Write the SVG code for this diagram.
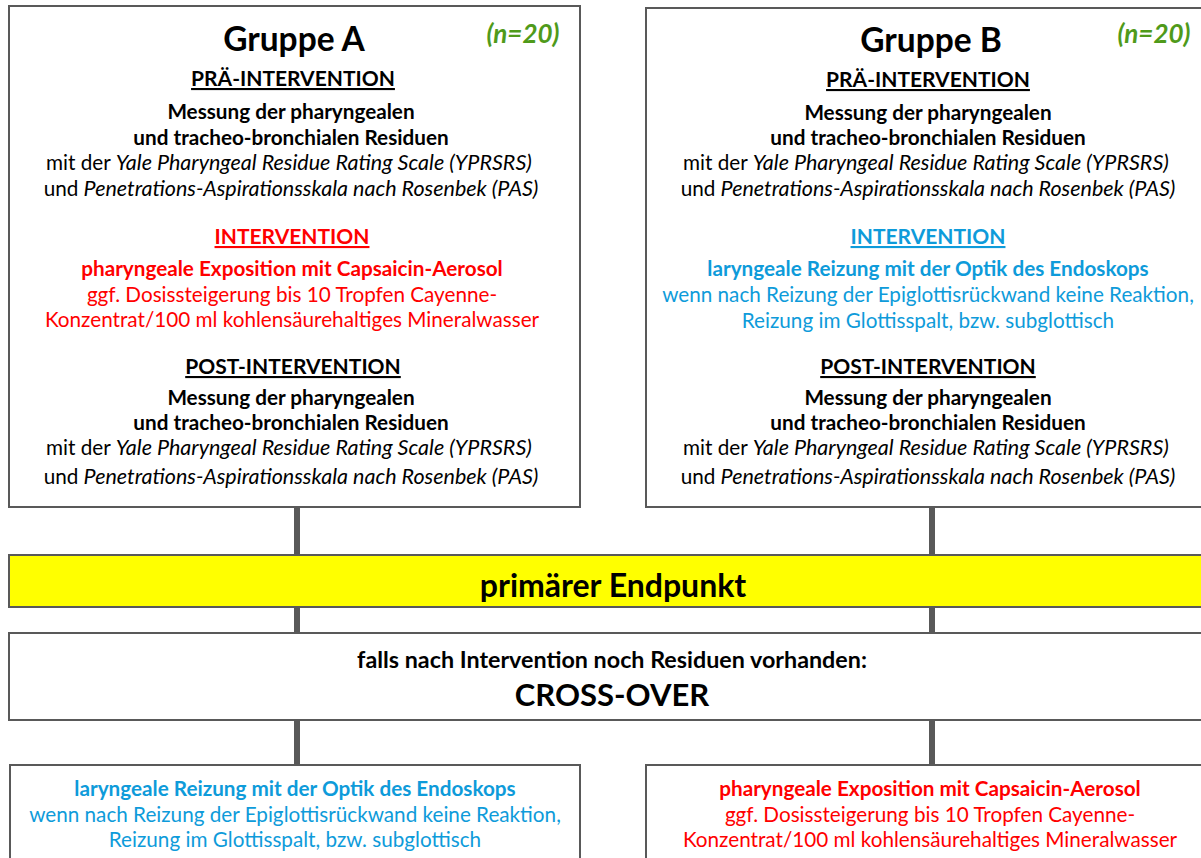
<svg xmlns="http://www.w3.org/2000/svg" width="1201" height="858" viewBox="0 0 1201 858">
<style>
text{font-family:Lato,"Open Sans","Liberation Sans",sans-serif;text-anchor:middle;}
.box{fill:#fff;stroke:#595959;stroke-width:2;}
.t{font-size:33.5px;font-weight:bold;fill:#000;}
.n{font-size:26px;font-weight:bold;font-style:italic;fill:#4f9a1a;}
.h{font-size:21px;font-weight:bold;text-decoration:underline;fill:#000;}
.b{font-size:20.7px;font-weight:bold;fill:#000;}
.r{font-size:20.7px;fill:#000;}
.i{font-style:italic;font-size:21.5px;}
.red{fill:#ff0000;}
.blue{fill:#0e9bda;}
.conn{stroke:#595959;stroke-width:6;fill:none;}
</style>
<rect width="1201" height="858" fill="#fff"/>
<g id="connectors">
<line class="conn" x1="297" y1="507" x2="297" y2="555"/>
<line class="conn" x1="932" y1="507" x2="932" y2="555"/>
<line class="conn" x1="297" y1="607" x2="297" y2="633"/>
<line class="conn" x1="932" y1="607" x2="932" y2="633"/>
<line class="conn" x1="297" y1="720" x2="297" y2="765"/>
<line class="conn" x1="932" y1="720" x2="932" y2="765"/>
</g>
<g id="gruppeA">
<rect class="box" x="9" y="6" width="571" height="501"/>
<text class="t" x="294" y="51">Gruppe A</text>
<text class="n" x="523" y="43">(n=20)</text>
<text class="h" x="293" y="86">PRÄ-INTERVENTION</text>
<text class="b" x="291" y="119">Messung der pharyngealen</text>
<text class="b" x="291" y="145">und tracheo-bronchialen Residuen</text>
<text class="r" x="289" y="170">mit der <tspan class="i">Yale Pharyngeal Residue Rating Scale (YPRSRS)</tspan></text>
<text class="r" x="291" y="196">und <tspan class="i">Penetrations-Aspirationsskala nach Rosenbek (PAS)</tspan></text>
<text class="h red" x="292" y="244">INTERVENTION</text>
<text class="b red" x="292" y="276">pharyngeale Exposition mit Capsaicin-Aerosol</text>
<text class="r red" x="292" y="302">ggf. Dosissteigerung bis 10 Tropfen Cayenne-</text>
<text class="r red" x="292" y="327">Konzentrat/100 ml kohlensäurehaltiges Mineralwasser</text>
<text class="h" x="293" y="374">POST-INTERVENTION</text>
<text class="b" x="291" y="405">Messung der pharyngealen</text>
<text class="b" x="291" y="430">und tracheo-bronchialen Residuen</text>
<text class="r" x="289" y="455">mit der <tspan class="i">Yale Pharyngeal Residue Rating Scale (YPRSRS)</tspan></text>
<text class="r" x="291" y="484">und <tspan class="i">Penetrations-Aspirationsskala nach Rosenbek (PAS)</tspan></text>
</g>
<g id="gruppeB">
<rect class="box" x="646" y="8" width="570" height="499"/>
<text class="t" x="931" y="52">Gruppe B</text>
<text class="n" x="1154" y="43">(n=20)</text>
<text class="h" x="928" y="87">PRÄ-INTERVENTION</text>
<text class="b" x="928" y="120">Messung der pharyngealen</text>
<text class="b" x="928" y="145">und tracheo-bronchialen Residuen</text>
<text class="r" x="926" y="170">mit der <tspan class="i">Yale Pharyngeal Residue Rating Scale (YPRSRS)</tspan></text>
<text class="r" x="928" y="196">und <tspan class="i">Penetrations-Aspirationsskala nach Rosenbek (PAS)</tspan></text>
<text class="h blue" x="928" y="244">INTERVENTION</text>
<text class="b blue" x="928" y="276">laryngeale Reizung mit der Optik des Endoskops</text>
<text class="r blue" x="928" y="302">wenn nach Reizung der Epiglottisrückwand keine Reaktion,</text>
<text class="r blue" x="928" y="328">Reizung im Glottisspalt, bzw. subglottisch</text>
<text class="h" x="928" y="374">POST-INTERVENTION</text>
<text class="b" x="928" y="405">Messung der pharyngealen</text>
<text class="b" x="928" y="430">und tracheo-bronchialen Residuen</text>
<text class="r" x="926" y="455">mit der <tspan class="i">Yale Pharyngeal Residue Rating Scale (YPRSRS)</tspan></text>
<text class="r" x="928" y="484">und <tspan class="i">Penetrations-Aspirationsskala nach Rosenbek (PAS)</tspan></text>
</g>
<g id="endpunkt">
<rect x="9" y="555" width="1205" height="52" fill="#ffff00" stroke="#595959" stroke-width="2"/>
<text x="613" y="597" style="font-size:32px;font-weight:bold;fill:#000">primärer Endpunkt</text>
</g>
<g id="crossover">
<rect class="box" x="9" y="633" width="1205" height="87"/>
<text x="612" y="668" style="font-size:23.3px;font-weight:bold;fill:#000">falls nach Intervention noch Residuen vorhanden:</text>
<text x="612" y="706" style="font-size:31px;font-weight:bold;fill:#000">CROSS-OVER</text>
</g>
<g id="crossA">
<rect class="box" x="10" y="765" width="570" height="100"/>
<text class="b blue" x="295" y="796">laryngeale Reizung mit der Optik des Endoskops</text>
<text class="r blue" x="295" y="822">wenn nach Reizung der Epiglottisrückwand keine Reaktion,</text>
<text class="r blue" x="295" y="847">Reizung im Glottisspalt, bzw. subglottisch</text>
</g>
<g id="crossB">
<rect class="box" x="646" y="765" width="570" height="100"/>
<text class="b red" x="930" y="796">pharyngeale Exposition mit Capsaicin-Aerosol</text>
<text class="r red" x="930" y="822">ggf. Dosissteigerung bis 10 Tropfen Cayenne-</text>
<text class="r red" x="930" y="847">Konzentrat/100 ml kohlensäurehaltiges Mineralwasser</text>
</g>
</svg>
